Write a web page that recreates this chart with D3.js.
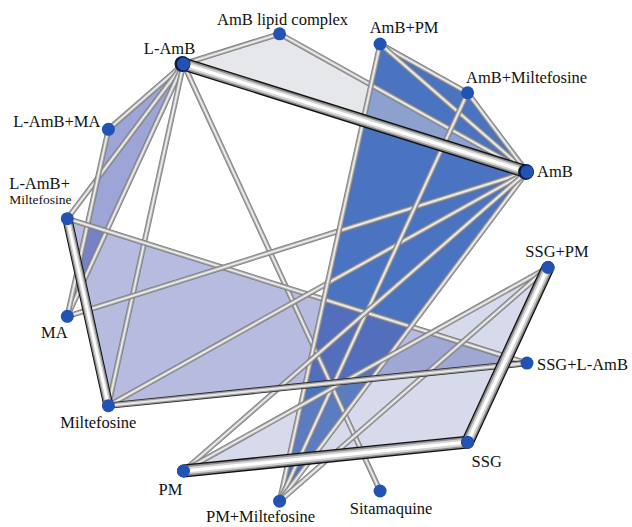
<!DOCTYPE html>
<html>
<head>
<meta charset="utf-8">
<script src="https://cdn.jsdelivr.net/npm/d3@7"></script>
<style>
  body { margin: 0; background: #fff; }
</style>
</head>
<body>
<svg id="net" width="632" height="527"></svg>
<script>
// treatments, in the order they sit round the circle (clockwise from 3 o'clock)
var treatments = ["SSG+PM", "SSG+L-AmB", "SSG", "Sitamaquine", "PM+Miltefosine", "PM",
    "Miltefosine", "MA", "L-AmB+Miltefosine", "L-AmB+MA", "L-AmB", "AmB lipid complex",
    "AmB+PM", "AmB+Miltefosine", "AmB"];

// direct comparisons: from, to, number of trials
var compFrom = ["L-AmB", "AmB lipid complex", "L-AmB", "L-AmB", "L-AmB", "L-AmB", "L-AmB", "L-AmB",
    "L-AmB+MA", "L-AmB+Miltefosine", "L-AmB+Miltefosine", "MA", "Miltefosine", "Miltefosine",
    "AmB+PM", "AmB+PM", "AmB+Miltefosine", "AmB+PM", "AmB+Miltefosine", "AmB", "AmB",
    "PM", "SSG", "PM", "SSG+PM"];
var compTo = ["AmB lipid complex", "AmB", "AmB", "L-AmB+MA", "L-AmB+Miltefosine", "MA", "Miltefosine", "Sitamaquine",
    "MA", "Miltefosine", "SSG+L-AmB", "AmB", "AmB", "SSG+L-AmB",
    "AmB+Miltefosine", "AmB", "AmB", "PM+Miltefosine", "PM+Miltefosine", "PM+Miltefosine", "PM",
    "SSG", "SSG+PM", "SSG+PM", "PM+Miltefosine"];
var compTrials = [1, 1, 4, 1, 1, 1, 1, 1,
    1, 3, 1, 1, 1, 2,
    1, 1, 1, 1, 1, 1, 1,
    4, 4, 1, 1];

// multi-arm trials (shaded)
var multiArm = [
    ["AmB+PM", "AmB+Miltefosine", "AmB", "PM+Miltefosine"],
    ["L-AmB", "AmB lipid complex", "AmB"],
    ["PM", "SSG", "SSG+PM"],
    ["L-AmB+Miltefosine", "Miltefosine", "SSG+L-AmB"],
    ["L-AmB", "L-AmB+MA", "MA"]
];

var width = 632, height = 527;
var svg = d3.select("#net");

// circular layout
var angle = d3.scaleLinear().domain([0, treatments.length]).range([0, 2 * Math.PI]);
var xs = d3.scaleLinear().domain([-1, 1]).range([62, 548]);
var ys = d3.scaleLinear().domain([-1, 1]).range([32.5, 502.5]);

var pos = {};
treatments.forEach(function (t, i) {
    pos[t] = [xs(Math.cos(angle(i))), ys(Math.sin(angle(i)))];
});

// shaded multi-arm trials
var polyStyle = [
    {fill: "#4a73c2", op: 1},
    {fill: "rgb(205,208,216)", op: 0.5},
    {fill: "rgb(130,142,190)", op: 0.33},
    {fill: "rgb(95,105,185)", op: 0.45},
    {fill: "rgb(50,66,170)", op: 0.48}
];
svg.append("g")
    .selectAll("polygon")
    .data(multiArm)
    .enter()
    .append("polygon")
    .attr("points", function (d) {
        return d.map(function (t) { return pos[t].join(","); }).join(" ");
    })
    .attr("fill", function (d, i) { return polyStyle[i].fill; })
    .attr("fill-opacity", function (d, i) { return polyStyle[i].op; });

// edges - thickness by number of trials, drawn as a shaded tube
var edges = compFrom.map(function (f, i) {
    return {a: pos[f], b: pos[compTo[i]], n: compTrials[i]};
});
edges.sort(function (p, q) { return p.n - q.n; });

var lw = d3.scaleLinear().domain([1, 2, 3, 4]).range([5.5, 6.5, 10, 13]);

var thinLayers = [
    {k: 1, c: "#7a7a7a"},
    {k: 0.72, c: "#a9a9a9"},
    {k: 0.32, c: "#ececec"}
];
var midLayers = [
    {k: 1, c: "#2a2a2a"},
    {k: 0.75, c: "#9a9a9a"},
    {k: 0.35, c: "#e6e6e6"}
];
var thickLayers = [
    {k: 1, c: "#111"},
    {k: 0.8, c: "#8c8c8c"},
    {k: 0.55, c: "#d4d4d4"},
    {k: 0.25, c: "#ffffff"}
];

var eg = svg.append("g");
edges.forEach(function (e) {
    var layers = e.n >= 3 ? thickLayers : (e.n === 2 ? midLayers : thinLayers);
    layers.forEach(function (l) {
        eg.append("line")
            .attr("x1", e.a[0]).attr("y1", e.a[1])
            .attr("x2", e.b[0]).attr("y2", e.b[1])
            .attr("stroke", l.c)
            .attr("stroke-width", lw(e.n) * l.k)
            .attr("stroke-linecap", e.n >= 3 ? "round" : "butt");
    });
});

// nodes
var heavy = {};
edges.forEach(function (e) {
    if (e.n >= 4) {
        treatments.forEach(function (t) {
            if (pos[t] === e.a || pos[t] === e.b) heavy[t] = (heavy[t] || 0) + 1;
        });
    }
});
var degree = {};
compFrom.forEach(function (f, i) {
    degree[f] = (degree[f] || 0) + 1;
    degree[compTo[i]] = (degree[compTo[i]] || 0) + 1;
});

var ng = svg.append("g");
ng.selectAll("circle.ring")
    .data(treatments.filter(function (t) { return heavy[t] && degree[t] >= 4; }))
    .enter()
    .append("circle")
    .attr("cx", function (d) { return pos[d][0] - 1; })
    .attr("cy", function (d) { return pos[d][1]; })
    .attr("r", 8)
    .attr("fill", "#0e1a45");
ng.selectAll("circle.node")
    .data(treatments)
    .enter()
    .append("circle")
    .attr("cx", function (d) { return pos[d][0]; })
    .attr("cy", function (d) { return pos[d][1]; })
    .attr("r", 6.5)
    .attr("fill", "#2152b4");

// labels
var labelPlace = {
    "SSG+PM": [9, -11, "middle"],
    "SSG+L-AmB": [10, 7, "start"],
    "SSG": [4, 25, "start"],
    "Sitamaquine": [11, 23, "middle"],
    "PM+Miltefosine": [-19, 21, "middle"],
    "PM": [-13, 24, "middle"],
    "Miltefosine": [-10, 22, "middle"],
    "MA": [-13, 22, "middle"],
    "L-AmB+Miltefosine": [-58, -30, "start"],
    "L-AmB+MA": [-8, -2, "end"],
    "L-AmB": [-14, -10, "middle"],
    "AmB lipid complex": [3, -9, "middle"],
    "AmB+PM": [24, -11, "middle"],
    "AmB+Miltefosine": [59, -10, "middle"],
    "AmB": [10, 5, "start"]
};

var lg = svg.append("g")
    .style("font-family", "'Liberation Serif', 'Times New Roman', serif")
    .style("font-size", "16.5px")
    .attr("fill", "#111");

treatments.forEach(function (t) {
    var p = labelPlace[t];
    if (t === "L-AmB+Miltefosine") {
        lg.append("text")
            .attr("x", pos[t][0] + p[0]).attr("y", pos[t][1] + p[1])
            .text("L-AmB+");
        lg.append("text")
            .attr("x", pos[t][0] + p[0]).attr("y", pos[t][1] + p[1] + 15)
            .style("font-size", "13.5px")
            .text("Miltefosine");
        return;
    }
    lg.append("text")
        .attr("x", pos[t][0] + p[0])
        .attr("y", pos[t][1] + p[1])
        .attr("text-anchor", p[2])
        .text(t);
});
</script>
</body>
</html>
